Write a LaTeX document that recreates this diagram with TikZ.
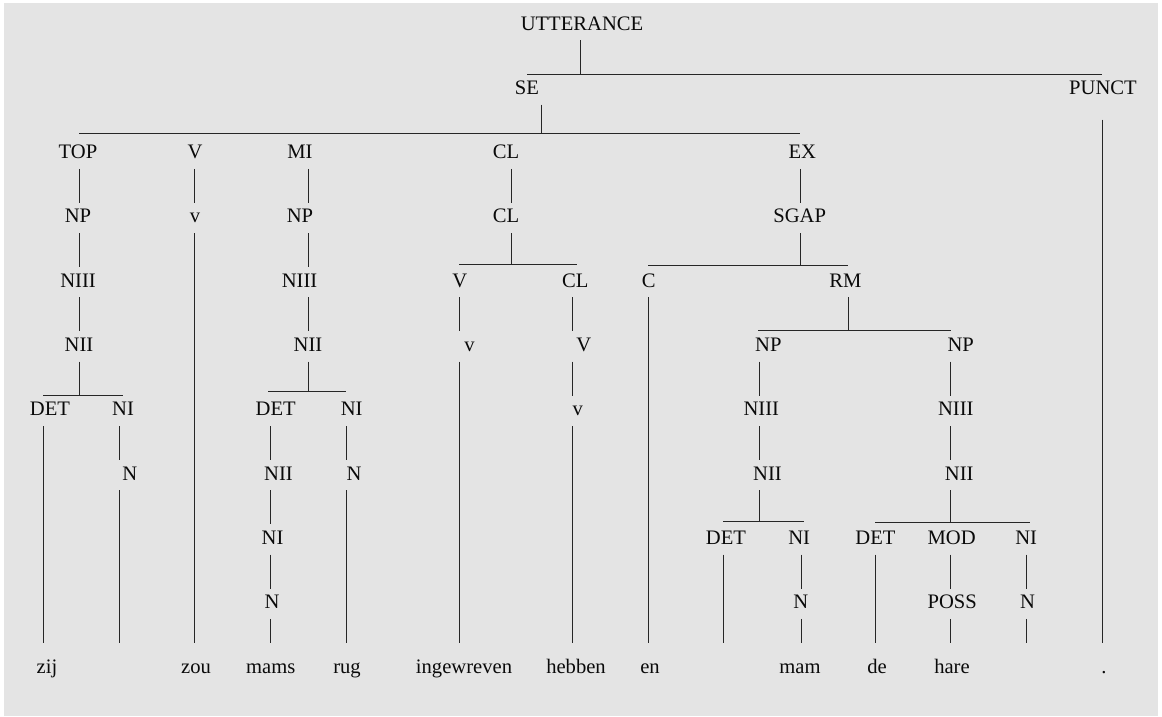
\documentclass[tikz,border=0pt]{standalone}
\usepackage{fontspec}
\setmainfont{Liberation Serif}
\usetikzlibrary{calc}

\definecolor{panel}{RGB}{228,228,228}
\definecolor{ink}{RGB}{10,10,10}

% label set beside its node's stem: #1 = horizontal shift of the text (pt)
\newcommand\off[2]{\makebox[0pt]{\kern#1pt\kern#1pt #2}}
% parent stem down to a bar, and the bar itself
\newcommand\branch[4]{%
  \draw[edge] (#1.south) -- (#1.south |- 0,#4);
  \draw[edge] (#2,#4) -- (#3,#4);}

\tikzset{
  tn/.style={anchor=base, inner sep=0pt, text height=20pt, text depth=10pt,
             font=\fontsize{20.6pt}{24pt}\selectfont, text=ink},
  wd/.style={tn, text height=30pt},
  edge/.style={draw=black!85, line width=0.95pt},
}

\begin{document}
\begin{tikzpicture}[x=1pt, y=-1pt]
\useasboundingbox (0,0) rectangle (1162,716);
\fill[white] (0,0) rectangle (1162,716);
\fill[panel] (4,3) rectangle (1158,716);

% ---- row 0 / 1
\node[tn] (utt)   at (580,30)    {\off{2}{UTTERANCE}};
\node[tn] (se)    at (541,94.3)  {\off{-14}{SE}};
\node[tn] (punct) at (1102,94.3) {\off{1}{PUNCT}};

% ---- row 2
\node[tn] (top) at (79,158.6)    {\off{-1}{TOP}};
\node[tn] (vb)  at (194.5,158.6) {\off{0.5}{V}};
\node[tn] (mi)  at (308,158.6)   {\off{-8}{MI}};
\node[tn] (clA) at (511,158.6)   {\off{-5}{CL}};
\node[tn] (ex)  at (800.3,158.6) {\off{2}{EX}};

% ---- row 3
\node[tn] (topnp) at (79,222.9)    {\off{-1}{NP}};
\node[tn] (vlo)   at (194.5,222.9) {\off{0.5}{v}};
\node[tn] (minp)  at (308,222.9)   {\off{-8}{NP}};
\node[tn] (clB)   at (511,222.9)   {\off{-5}{CL}};
\node[tn] (sgap)  at (800.3,222.9) {\off{-0.6}{SGAP}};

% ---- row 4
\node[tn] (topniii) at (79,287.2)    {\off{-1}{NIII}};
\node[tn] (miniii)  at (308,287.2)   {\off{-8.5}{NIII}};
\node[tn] (clv)     at (459,287.2)   {\off{0.7}{V}};
\node[tn] (clcl)    at (572.3,287.2) {\off{3}{CL}};
\node[tn] (comp)    at (648.3,287.2) {\off{0.4}{C}};
\node[tn] (rm)      at (848,287.2)   {\off{-2.7}{RM}};

% ---- row 5
\node[tn] (topnii) at (79,351.5)    {\off{0}{NII}};
\node[tn] (minii)  at (308,351.5)   {\off{0}{NII}};
\node[tn] (clvv)   at (459,351.5)   {\off{10.5}{v}};
\node[tn] (clclv)  at (572.3,351.5) {\off{11.4}{V}};
\node[tn] (rmnpA)  at (759.7,351.5) {\off{8.6}{NP}};
\node[tn] (rmnpB)  at (950.7,351.5) {\off{10}{NP}};

% ---- row 6
\node[tn] (topdet)  at (43,415.8)    {\off{7}{DET}};
\node[tn] (topni)   at (119,415.8)   {\off{4}{NI}};
\node[tn] (midet)   at (270,415.8)   {\off{5.7}{DET}};
\node[tn] (mini)    at (346,415.8)   {\off{5.7}{NI}};
\node[tn] (clclvv)  at (572.3,415.8) {\off{5.5}{v}};
\node[tn] (rmniiiA) at (759.7,415.8) {\off{1.6}{NIII}};
\node[tn] (rmniiiB) at (950.7,415.8) {\off{5.1}{NIII}};

% ---- row 7
\node[tn] (topn)     at (119,480.1)   {\off{10.7}{N}};
\node[tn] (midetnii) at (270,480.1)   {\off{8.5}{NII}};
\node[tn] (minin)    at (346,480.1)   {\off{8}{N}};
\node[tn] (rmniiA)   at (759.7,480.1) {\off{7.8}{NII}};
\node[tn] (rmniiB)   at (950.7,480.1) {\off{8.5}{NII}};

% ---- row 8
\node[tn] (midetni) at (270,544.4)    {\off{2.5}{NI}};
\node[tn] (rdetA)   at (723.7,544.4)  {\off{2.3}{DET}};
\node[tn] (rniA)    at (801.7,544.4)  {\off{-2.5}{NI}};
\node[tn] (rdetB)   at (875,544.4)    {\off{0.5}{DET}};
\node[tn] (rmod)    at (950.7,544.4)  {\off{1}{MOD}};
\node[tn] (rniB)    at (1026,544.4)   {\off{0.2}{NI}};

% ---- row 9
\node[tn] (midetn) at (270,608.7)    {\off{2}{N}};
\node[tn] (rnA)    at (801.7,608.7)  {\off{-1}{N}};
\node[tn] (rposs)  at (950.7,608.7)  {\off{1.5}{POSS}};
\node[tn] (rnB)    at (1026,608.7)   {\off{1.5}{N}};

% ---- words
\node[wd] (wzij)  at (43,673)     {\off{4}{zij}};
\node[wd] (wzou)  at (194.5,673)  {\off{1.5}{zou}};
\node[wd] (wmams) at (270,673)    {\off{0.7}{mams}};
\node[wd] (wrug)  at (346,673)    {\off{1}{rug}};
\node[wd] (winge) at (459,673)    {\off{5}{ingewreven}};
\node[wd] (wheb)  at (572.3,673)  {\off{3.7}{hebben}};
\node[wd] (wen)   at (648.3,673)  {\off{1.7}{en}};
\node[wd] (wmam)  at (801.7,673)  {\off{-1.7}{mam}};
\node[wd] (wde)   at (875,673)    {\off{2}{de}};
\node[wd] (whare) at (950.7,673)  {\off{1.3}{hare}};
\node[wd] (wdot)  at (1102,673)   {\off{2}{.}};
\coordinate (endA) at (119,643);
\coordinate (endB) at (723.7,643);
\coordinate (endC) at (1026,643);

% ---- branching points
\branch{utt}{527}{1102}{74}
\branch{se}{79}{800.3}{133}
\branch{clB}{459}{577}{264.3}
\branch{sgap}{648.3}{848}{265.7}
\branch{rm}{758}{950.7}{330}
\branch{topnii}{43}{123}{395}
\branch{minii}{268}{346}{391}
\branch{rmniiA}{723.3}{804}{521}
\branch{rmniiB}{875}{1030}{522.3}

% ---- unary links
\foreach \a/\b in {top/topnp, topnp/topniii, topniii/topnii,
                   vb/vlo,
                   mi/minp, minp/miniii, miniii/minii,
                   clA/clB, clv/clvv, clcl/clclv, clclv/clclvv,
                   ex/sgap,
                   rmnpA/rmniiiA, rmniiiA/rmniiA,
                   rmnpB/rmniiiB, rmniiiB/rmniiB,
                   topni/topn,
                   midet/midetnii, midetnii/midetni, midetni/midetn,
                   mini/minin,
                   rniA/rnA, rmod/rposs, rniB/rnB}
  \draw[edge] (\a.south) -- (\b.north);

% ---- links down to the words
\foreach \a/\b in {topdet/wzij, topn/endA, vlo/wzou, midetn/wmams, minin/wrug,
                   clvv/winge, clclvv/wheb, comp/wen, rdetA/endB, rnA/wmam,
                   rdetB/wde, rposs/whare, rnB/endC}
  \draw[edge] (\a.south) -- (\b.north);
\draw[edge] ([yshift=-15pt]punct.south) -- (wdot.north);
\end{tikzpicture}
\end{document}
